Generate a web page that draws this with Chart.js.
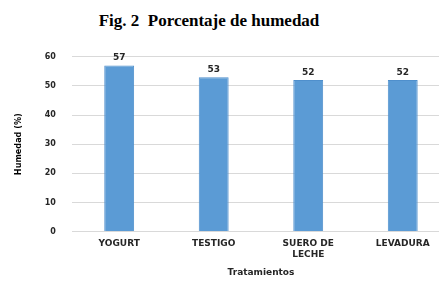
<!DOCTYPE html>
<html>
<head>
<meta charset="utf-8">
<script src="https://cdn.jsdelivr.net/npm/chart.js@4/dist/chart.umd.min.js"></script>
<style>
  html, body { margin: 0; padding: 0; background: #fff; }
  #wrap { position: relative; width: 439px; height: 282px; overflow: hidden; }
  #title {
    position: absolute; left: 0; top: 11px; width: 418px; text-align: center;
    font-family: 'Liberation Serif', 'DejaVu Serif', serif; font-weight: bold; font-size: 17px; color: #000;
  }
  #box { position: absolute; left: 0; top: 36px; width: 452px; height: 246px; }
</style>
</head>
<body>
<div id="wrap">
  <div id="title">Fig. 2&nbsp; Porcentaje de humedad</div>
  <div id="box"><canvas id="chart"></canvas></div>
</div>
<script>
const categories = ['YOGURT', 'TESTIGO', ['SUERO DE', 'LECHE'], 'LEVADURA'];
const humedad = [57, 53, 52, 52];
const yTicks = [0, 10, 20, 30, 40, 50, 60];

const tickFont = { family: "'DejaVu Sans', Verdana, sans-serif", size: 8, weight: 'bold' };
const catFont = { family: "'DejaVu Sans', Verdana, sans-serif", size: 9, weight: 'bold' };

// draws the value above each bar
const valueLabels = {
  id: 'valueLabels',
  afterDatasetsDraw(chart) {
    const c = chart.ctx;
    const meta = chart.getDatasetMeta(0);
    c.save();
    c.font = "bold 9px 'DejaVu Sans', Verdana, sans-serif";
    c.fillStyle = '#262626';
    c.textAlign = 'center';
    c.textBaseline = 'bottom';
    meta.data.forEach((bar, i) => {
      c.fillText(humedad[i], bar.x, bar.y - 3);
    });
    c.restore();
  }
};

const ctx = document.getElementById('chart').getContext('2d');
new Chart(ctx, {
  type: 'bar',
  data: {
    labels: categories,
    datasets: [
      {
        data: humedad,
        backgroundColor: '#5b9bd5',
        borderColor: '#4f8fcc',
        borderWidth: 1,
        barPercentage: 0.62,
        categoryPercentage: 0.51
      }
    ]
  },
  options: {
    responsive: true,
    maintainAspectRatio: false,
    animation: false,
    layout: { padding: { top: 20, left: 13, right: 2, bottom: 4 } },
    plugins: {
      legend: { display: false },
      tooltip: { enabled: false }
    },
    scales: {
      x: {
        grid: { display: false, drawTicks: false },
        border: { display: false },
        ticks: { font: catFont, color: '#262626', padding: 7, maxRotation: 0, autoSkip: false },
        title: {
          display: true,
          text: 'Tratamientos',
          font: catFont,
          color: '#262626',
          padding: { top: 0, bottom: 0 }
        }
      },
      y: {
        min: 0,
        max: 60,
        afterBuildTicks: (axis) => { axis.ticks = yTicks.map((v) => ({ value: v })); },
        grid: { color: '#d9d9d9', lineWidth: 1, drawTicks: false },
        border: { display: false },
        ticks: { font: tickFont, color: '#262626', padding: 16 },
        title: {
          display: true,
          text: 'Humedad (%)',
          font: { family: "'Liberation Sans Narrow', 'DejaVu Sans Condensed', sans-serif", size: 9, weight: 'bold' },
          color: '#000',
          padding: { top: 0, bottom: 5 }
        }
      }
    }
  },
  plugins: [valueLabels]
});
</script>
</body>
</html>
